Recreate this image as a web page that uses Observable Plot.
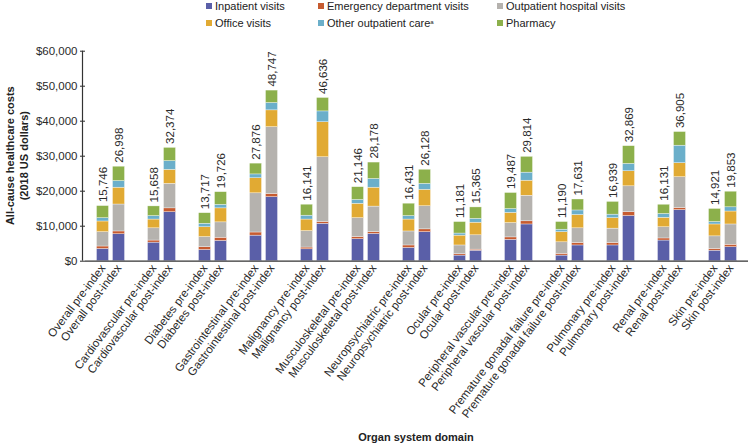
<!DOCTYPE html>
<html><head><meta charset="utf-8">
<script src="https://cdn.jsdelivr.net/npm/d3@7"></script>
<script src="https://cdn.jsdelivr.net/npm/@observablehq/plot@0.6"></script>
<style>
body{margin:0;background:#fff;font-family:"Liberation Sans",Arial,sans-serif;}
#wrap{position:relative;width:750px;height:445px;overflow:hidden;}
.leg{position:absolute;font-size:11px;color:#222;white-space:nowrap;line-height:12px;}
.sw{position:absolute;width:6px;height:6px;top:3px;}
.leg span.t{position:absolute;left:9px;top:0;}
sup{font-size:6px;vertical-align:top;position:relative;top:-1px;}
</style></head>
<body><div id="wrap"></div>
<script>
const domains = ["Overall","Cardiovascular","Diabetes","Gastrointestinal","Malignancy","Musculoskeletal","Neuropsychiatric","Ocular","Peripheral vascular","Premature gonadal failure","Pulmonary","Renal","Skin"];
const periods = ["pre","post"];
const seriesNames = ["Inpatient visits","Emergency department visits","Outpatient hospital visits","Office visits","Other outpatient care","Pharmacy"];
const colors = ["#5a5fa8","#c65b30","#b5b2ae","#e1aa33","#6bafca","#8cb04b"];
const yTicks = [0,10000,20000,30000,40000,50000,60000];
// order: for each domain, pre then post
const totals = [15746,26998, 15658,32374, 13717,19726, 27876,48747, 16141,46636, 21146,28178, 16431,26128, 11181,15365, 19487,29814, 11190,17631, 16939,32869, 16131,36905, 14921,19853];
const inpatient = [3500,7700, 5300,14000, 3200,5800, 7300,18300, 3400,10700, 6300,7800, 3800,8300, 1600,3000, 6100,10500, 1600,4500, 4500,12900, 5900,14600, 3000,4000];
const emergency = [700,800, 600,1100, 800,900, 900,900, 500,500, 600,500, 700,800, 400,300, 700,900, 500,700, 700,1100, 600,600, 500,700];
const outpatientHospital = [4100,7700, 3500,7000, 2900,4400, 11200,19100, 4700,18500, 5400,7300, 4000,6600, 2500,4100, 4100,7300, 3300,4200, 4100,7400, 3200,8800, 3600,5800];
const office = [3050,4800, 2500,4000, 2800,4000, 4300,4800, 3300,10000, 4100,5400, 3400,4700, 2800,3600, 2900,4300, 2900,3800, 3000,4300, 2700,4000, 3400,3700];
const otherOutpatient = [950,1900, 1000,2500, 1000,1000, 1100,2100, 1100,3100, 1100,2500, 1000,1700, 600,1100, 1100,2300, 700,1300, 1000,2100, 1100,5000, 700,1200];
const pharmacy = [3446,4098, 2758,3774, 3017,3626, 3076,3547, 3141,3836, 3646,4678, 3531,4028, 3281,3265, 4587,4514, 2190,3131, 3639,5069, 2631,3905, 3721,4453];

const seriesValues = [inpatient, emergency, outpatientHospital, office, otherOutpatient, pharmacy];
const rows = [];
const bars = [];
domains.forEach((dom, i) => {
  periods.forEach((p, j) => {
    const idx = i * 2 + j;
    bars.push({domain: dom, period: p, total: totals[idx], label: `${dom} ${p}-index`});
    seriesNames.forEach((s, k) => rows.push({domain: dom, period: p, series: s, value: seriesValues[k][idx]}));
  });
});

const font = '"Liberation Sans", Arial, sans-serif';
const mL = 82.5, mT = 50.7, H = 445, mB = H - 260.7;
const chart = Plot.plot({
  width: 750, height: H,
  marginLeft: mL, marginRight: 0, marginTop: mT, marginBottom: mB,
  style: {fontFamily: font, fontSize: "11.5px", color: "#2a2a2a", background: "transparent"},
  fx: {domain: domains, padding: 0, axis: null},
  x: {domain: periods, paddingInner: 0.22, paddingOuter: 0.684, axis: null},
  y: {domain: [0, 60000], ticks: yTicks, tickFormat: d => "$" + d3.format(",")(d), tickSize: 5, tickPadding: 3, label: null},
  color: {domain: seriesNames, range: colors},
  marks: [
    Plot.barY(rows, {fx: "domain", x: "period", y: "value", fill: "series", stroke: "#ffffff", strokeWidth: 0.5, strokeOpacity: 0.7}),
    Plot.ruleY([0], {stroke: "#333", strokeWidth: 1.2}),
    Plot.text(bars, {fx: "domain", x: "period", y: "total", text: d => d3.format(",")(d.total), rotate: -90, textAnchor: "start", dy: -4, fontSize: 11.5, fill: "#2a2a2a"}),
    Plot.text(bars, {fx: "domain", x: "period", text: "label", frameAnchor: "bottom", rotate: -53, textAnchor: "end", dy: 7, dx: 3, fontSize: 11.5, fill: "#2a2a2a"})
  ]
});
const wrap = document.getElementById("wrap");
wrap.appendChild(chart);

const svg = d3.select(chart);
const ys = chart.scale("y");
svg.append("line").attr("x1", mL).attr("x2", mL).attr("y1", ys.apply(0)).attr("y2", ys.apply(60000)).attr("stroke", "#333").attr("stroke-width", 1.2);
const yMid = (ys.apply(0) + ys.apply(60000)) / 2;
svg.append("text").attr("transform", `translate(10,${yMid}) rotate(-90)`).attr("text-anchor", "middle").attr("dy", "0.35em")
  .attr("font-family", font).attr("font-size", 11).attr("font-weight", "bold").attr("fill", "#222").text("All-cause healthcare costs");
svg.append("text").attr("transform", `translate(24,${yMid}) rotate(-90)`).attr("text-anchor", "middle").attr("dy", "0.35em")
  .attr("font-family", font).attr("font-size", 11).attr("font-weight", "bold").attr("fill", "#222").text("(2018 US dollars)");
svg.append("text").attr("x", 416).attr("y", 437).attr("text-anchor", "middle").attr("dy", "0.35em")
  .attr("font-family", font).attr("font-size", 11).attr("font-weight", "bold").attr("fill", "#222").text("Organ system domain");

// legend
const legPos = [[206,0],[318,0],[497,0],[206,16.5],[318,16.5],[497,16.5]];
seriesNames.forEach((name, k) => {
  const d = document.createElement("div");
  d.className = "leg";
  d.style.left = legPos[k][0] + "px";
  d.style.top = legPos[k][1] + "px";
  const sw = document.createElement("div");
  sw.className = "sw"; sw.style.background = colors[k];
  d.appendChild(sw);
  const t = document.createElement("span");
  t.className = "t";
  t.textContent = name;
  if (k === 4) { const s = document.createElement("sup"); s.textContent = "a"; t.appendChild(s); }
  d.appendChild(t);
  wrap.appendChild(d);
});
</script>
</body></html>
